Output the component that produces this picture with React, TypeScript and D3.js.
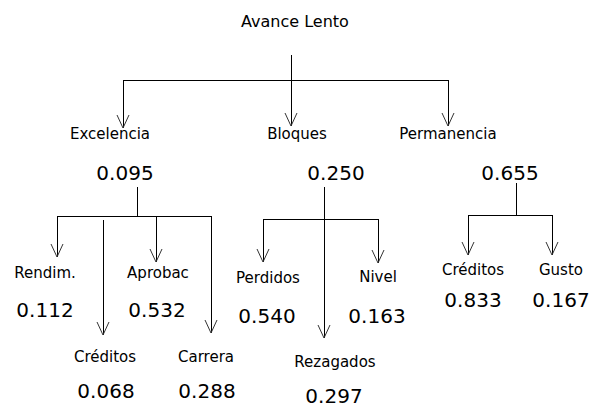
import React, { useRef, useEffect } from "react";
import * as d3 from "d3";

const width = 593;
const height = 409;

// tree content
const rootLabel = "Avance Lento";
const groupLabels = ["Excelencia", "Bloques", "Permanencia"];
const groupValues = [0.095, 0.25, 0.655];
const excelenciaLabels = ["Rendim.", "Créditos", "Aprobac", "Carrera"];
const excelenciaValues = [0.112, 0.068, 0.532, 0.288];
const bloquesLabels = ["Perdidos", "Rezagados", "Nivel"];
const bloquesValues = [0.54, 0.297, 0.163];
const permanenciaLabels = ["Créditos", "Gusto"];
const permanenciaValues = [0.833, 0.167];

// hand-placed layout of the diagram (px)
const root = { textX: 295, textY: 27, x: 291, y0: 55, bar: 80 };
const groupLayout = [
  { x: 123, tip: 128, labelX: 110, valueX: 125, stemX: 137, stemTop: 187, bar: 216, barX: [57, 211] },
  { x: 291, tip: 126, labelX: 297, valueX: 336, stemX: 324, stemTop: 187, bar: 219, barX: [263, 378] },
  { x: 448, tip: 126, labelX: 448, valueX: 510, stemX: 516, stemTop: 183, bar: 215, barX: [468, 552] },
];
const childLayout = [
  [
    { x: 57, start: 216, tip: 257, labelX: 45, labelY: 278, valueX: 45, valueY: 317 },
    { x: 103, start: 220, tip: 335, labelX: 105, labelY: 362, valueX: 106, valueY: 398 },
    { x: 156, start: 216, tip: 262, labelX: 158, labelY: 278, valueX: 157, valueY: 317 },
    { x: 211, start: 216, tip: 333, labelX: 206, labelY: 362, valueX: 207, valueY: 398 },
  ],
  [
    { x: 263, start: 219, tip: 262, labelX: 268, labelY: 283, valueX: 267, valueY: 323 },
    { x: 324, start: 219, tip: 338, labelX: 335, labelY: 367, valueX: 334, valueY: 403 },
    { x: 378, start: 219, tip: 263, labelX: 378, labelY: 282, valueX: 377, valueY: 323 },
  ],
  [
    { x: 468, start: 215, tip: 255, labelX: 473, labelY: 275, valueX: 473, valueY: 307 },
    { x: 552, start: 215, tip: 255, labelX: 561, labelY: 275, valueX: 561, valueY: 307 },
  ],
];
const groupLabelY = 139;
const groupValueY = 180;
const arrowHalf = 6;
const arrowLen = 13;

const fmt = d3.format(".3f");
const font = "'DejaVu Sans', Verdana, sans-serif";

const App = () => {
  const ref = useRef<SVGSVGElement>(null);

  useEffect(() => {
    if (!ref.current) return;
    const svg = d3.select(ref.current);
    svg.selectAll("*").remove();
    const line = d3.line<[number, number]>();

    const seg = (x1: number, y1: number, x2: number, y2: number) =>
      svg
        .append("path")
        .attr("d", line([[x1, y1], [x2, y2]]))
        .attr("stroke", "#000")
        .attr("stroke-width", 1)
        .attr("fill", "none")
        .attr("shape-rendering", "crispEdges");

    const arrow = (x: number, y1: number, tip: number) => {
      seg(x, y1, x, tip);
      svg
        .append("path")
        .attr(
          "d",
          line([
            [x - arrowHalf, tip - arrowLen],
            [x, tip],
            [x + arrowHalf, tip - arrowLen],
          ])
        )
        .attr("stroke", "#333")
        .attr("stroke-width", 1)
        .attr("fill", "none");
    };

    const text = (s: string, x: number, y: number, size: number) =>
      svg
        .append("text")
        .attr("x", x)
        .attr("y", y)
        .attr("text-anchor", "middle")
        .attr("font-family", font)
        .attr("font-size", size)
        .attr("fill", "#000")
        .text(s);

    // root
    text(rootLabel, root.textX, root.textY, 16);
    seg(root.x, root.y0, root.x, root.bar);
    seg(groupLayout[0].x, root.bar, groupLayout[2].x, root.bar);

    const childLabels = [excelenciaLabels, bloquesLabels, permanenciaLabels];
    const childValues = [excelenciaValues, bloquesValues, permanenciaValues];

    groupLabels.forEach((g, i) => {
      const gl = groupLayout[i];
      arrow(gl.x, root.bar, gl.tip);
      text(g, gl.labelX, groupLabelY, 15);
      text(fmt(groupValues[i]), gl.valueX, groupValueY, 20);
      seg(gl.stemX, gl.stemTop, gl.stemX, gl.bar);
      seg(gl.barX[0], gl.bar, gl.barX[1], gl.bar);
      childLabels[i].forEach((c, j) => {
        const cl = childLayout[i][j];
        arrow(cl.x, cl.start, cl.tip);
        text(c, cl.labelX, cl.labelY, 15);
        text(fmt(childValues[i][j]), cl.valueX, cl.valueY, 20);
      });
    });
  }, []);

  return (
    <svg
      ref={ref}
      width={width}
      height={height}
      style={{ position: "absolute", left: 0, top: 0, background: "#fff" }}
    />
  );
};

export default App;
